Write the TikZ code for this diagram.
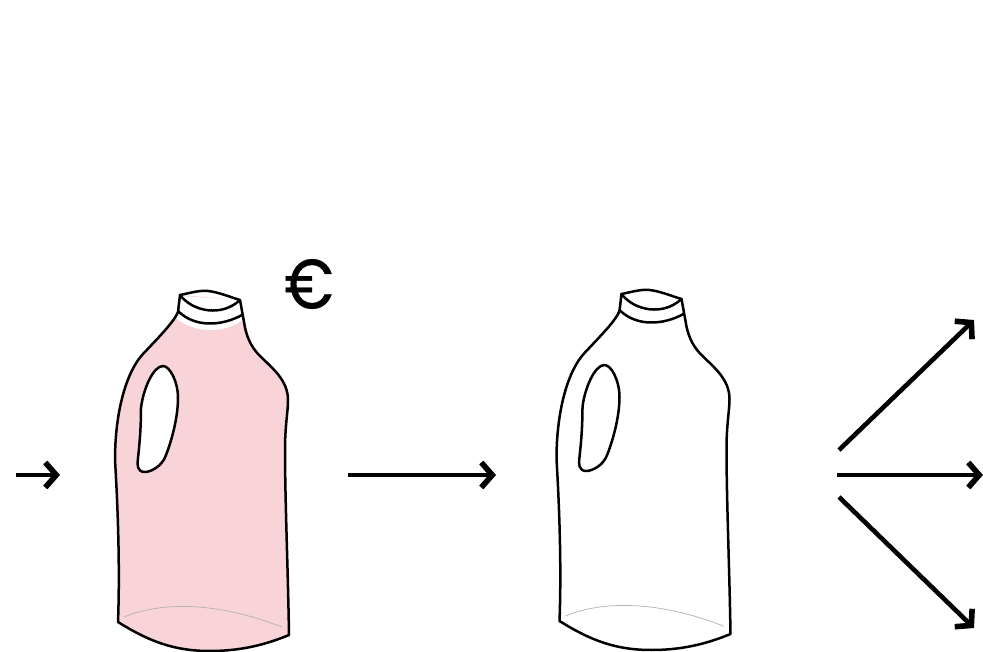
\documentclass[tikz,border=0pt]{standalone}
\usepackage{fontspec}
\newfontfamily\eurofont[FakeBold=0.5]{Poppins}
\usetikzlibrary{arrows.meta}
\definecolor{bottlepink}{HTML}{F8D3D7}
\def\bodypath{(180,295) -- (178,312) .. controls (174,322) and (158,338) .. (143,354)
  .. controls (127,371) and (115,410) .. (115,460)
  .. controls (118,510) and (120,570) .. (118,622)
  .. controls (150,642) and (175,651) .. (210,651)
  .. controls (240,651) and (265,645) .. (289,635)
  .. controls (288,570) and (285,500) .. (285,450)
  .. controls (285,425) and (288,412) .. (288,400)
  .. controls (288,380) and (272,368) .. (260,356)
  .. controls (250,346) and (246,335) .. (244,322) -- (240,300)}
\tikzset{
  flow/.style={line width=4.6pt, -{Straight Barb[length=11pt,width=25pt,line width=5.6pt]}},
  wall/.style={line width=2.5pt, line join=round, line cap=round},
  bottle/.pic={
    % body colour, then the white band below the collar
    \fill[#1] \bodypath -- cycle;
    \fill[white] (180,296) -- (176,318) .. controls (195,334) and (225,334) .. (244,319) -- (241,300) -- cycle;
    % outline
    \draw[wall] \bodypath;
    % neck
    \draw[wall] (180,295) .. controls (190,293) and (200,290) .. (208,291) .. controls (218,292) and (230,297) .. (240,300);
    \draw[wall] (180,295) .. controls (193,312) and (222,317) .. (240,300);
    \draw[wall] (178,311) .. controls (195,328) and (222,326) .. (242,315);
    % handle hole
    \filldraw[wall, fill=white] (163,366) .. controls (170,366) and (178,382) .. (178,398)
      .. controls (178,420) and (170,445) .. (166,455)
      .. controls (162,467) and (150,472) .. (145,472)
      .. controls (137,472) and (137,465) .. (138,458)
      .. controls (140,440) and (141,425) .. (141,408)
      .. controls (143,390) and (153,366) .. (163,366) -- cycle;
    % fold at the base
    \draw[gray!60, line width=0.7pt] (124,617) .. controls (160,602) and (215,601) .. (282,627);
  }
}
\begin{document}
\begin{tikzpicture}[x=1pt,y=-1pt]
  \useasboundingbox (0,0) rectangle (983,652);

  \pic at (0,0) {bottle=bottlepink};
  \pic at (441.5,-1) {bottle=white};

  \node[font=\eurofont\fontsize{70}{70}\selectfont, inner sep=0pt] (euro) at (309,284) {\scalebox{0.87}[1]{€}};

  \coordinate (inA) at (16,475);
  \coordinate (inB) at (60,475);
  \coordinate (midA) at (348,475);
  \coordinate (midB) at (496,475);
  \coordinate (outM) at (837,475);
  \coordinate (endM) at (983,475);
  \coordinate (outU) at (839,450);
  \coordinate (endU) at (974,320);
  \coordinate (outD) at (839,497);
  \coordinate (endD) at (974,628);

  \draw[flow] (inA) -- (inB);
  \draw[flow] (midA) -- (midB);
  \draw[flow] (outM) -- (endM);
  \draw[flow] (outU) -- (endU);
  \draw[flow] (outD) -- (endD);
\end{tikzpicture}
\end{document}
